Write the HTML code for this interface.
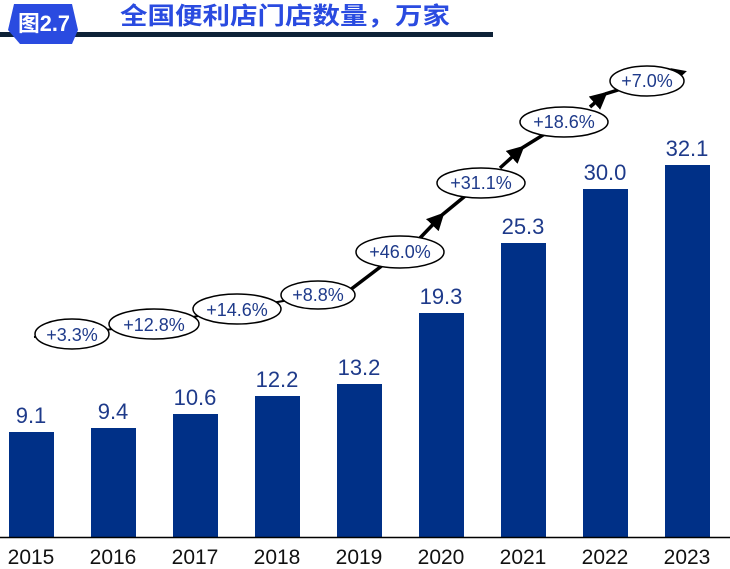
<!DOCTYPE html>
<html><head><meta charset="utf-8"><style>
body{margin:0;background:#fff;}
svg{display:block;font-family:"Liberation Sans","Noto Sans CJK SC",sans-serif;}
</style></head><body>
<svg width="730" height="569" viewBox="0 0 730 569" xmlns="http://www.w3.org/2000/svg">
<defs>
<marker id="ah" markerWidth="5" markerHeight="5" refX="4" refY="2.5" orient="auto" markerUnits="strokeWidth">
<path d="M0,0 L5,2.5 L0,5 Z" fill="#000"/></marker>
</defs>
<rect x="0" y="32" width="493" height="5" fill="#0e2238"/>
<path d="M14,4 L72,4 L78,30 L72,44 L20,44 L8,30 Z" fill="#2a4be0"/>
<text x="44" y="31" font-size="22" font-weight="bold" fill="#fff" text-anchor="middle" textLength="52" lengthAdjust="spacingAndGlyphs">图2.7</text>
<text x="120" y="24" font-size="24" font-weight="bold" fill="#2a4be0" textLength="330" lengthAdjust="spacingAndGlyphs">全国便利店门店数量，万家</text>
<g fill="#003087">
<rect x="9" y="432" width="45" height="105"/>
<rect x="91" y="428" width="45" height="109"/>
<rect x="173" y="414" width="45" height="123"/>
<rect x="255" y="396" width="45" height="141"/>
<rect x="337" y="384" width="45" height="153"/>
<rect x="419" y="313" width="45" height="224"/>
<rect x="501" y="243" width="45" height="294"/>
<rect x="583" y="189" width="45" height="348"/>
<rect x="665" y="165" width="45" height="372"/>
</g>
<line x1="0" y1="537.5" x2="730" y2="537.5" stroke="#000" stroke-width="1.5"/>
<g font-size="22" fill="#1e3a8a" text-anchor="middle">
<text x="31" y="423">9.1</text><text x="113" y="419">9.4</text><text x="195" y="405">10.6</text>
<text x="277" y="387">12.2</text><text x="359" y="375">13.2</text><text x="441" y="304">19.3</text>
<text x="523" y="234">25.3</text><text x="605" y="180">30.0</text><text x="687" y="156">32.1</text>
</g>
<g font-size="21" fill="#111" text-anchor="middle">
<text x="31" y="564">2015</text><text x="113" y="564">2016</text><text x="195" y="564">2017</text>
<text x="277" y="564">2018</text><text x="359" y="564">2019</text><text x="441" y="564">2020</text>
<text x="523" y="564">2021</text><text x="605" y="564">2022</text><text x="687" y="564">2023</text>
</g>
<g stroke="#000" fill="none">
<line x1="34" y1="337" x2="72" y2="334" stroke-width="2"/>
<line x1="72" y1="334" x2="154" y2="324" stroke-width="2"/>
<line x1="154" y1="324" x2="237" y2="309" stroke-width="2"/>
<line x1="237" y1="309" x2="318" y2="295" stroke-width="2"/>
<line x1="350" y1="290" x2="400" y2="252" stroke-width="3.5"/>
<line x1="420" y1="238" x2="442" y2="215" stroke-width="3.5" marker-end="url(#ah)"/>
<line x1="442" y1="215" x2="481" y2="183" stroke-width="3.5"/>
<line x1="500" y1="168" x2="522" y2="148" stroke-width="3.5" marker-end="url(#ah)"/>
<line x1="522" y1="148" x2="564" y2="122" stroke-width="3.5"/>
<line x1="590" y1="107" x2="605" y2="94" stroke-width="3.5" marker-end="url(#ah)"/>
<line x1="605" y1="94" x2="647" y2="81" stroke-width="3.5"/>
<line x1="670" y1="76" x2="684" y2="72" stroke-width="3" marker-end="url(#ah)"/>
</g>
<g fill="#fff" stroke="#000" stroke-width="1.5">
<ellipse cx="72" cy="334" rx="37" ry="15"/>
<ellipse cx="154" cy="324" rx="45" ry="15"/>
<ellipse cx="237" cy="309" rx="44" ry="15"/>
<ellipse cx="318" cy="295" rx="37" ry="14"/>
<ellipse cx="400" cy="252" rx="44" ry="16"/>
<ellipse cx="481" cy="183" rx="44" ry="15"/>
<ellipse cx="564" cy="122" rx="44" ry="15"/>
<ellipse cx="647" cy="81" rx="37" ry="15"/>
</g>
<g font-size="18" fill="#1e3a8a" text-anchor="middle">
<text x="72" y="341">+3.3%</text><text x="154" y="331">+12.8%</text><text x="237" y="316">+14.6%</text>
<text x="318" y="301">+8.8%</text><text x="400" y="258">+46.0%</text><text x="481" y="189">+31.1%</text>
<text x="564" y="128">+18.6%</text><text x="647" y="87">+7.0%</text>
</g>
</svg>
</body></html>
